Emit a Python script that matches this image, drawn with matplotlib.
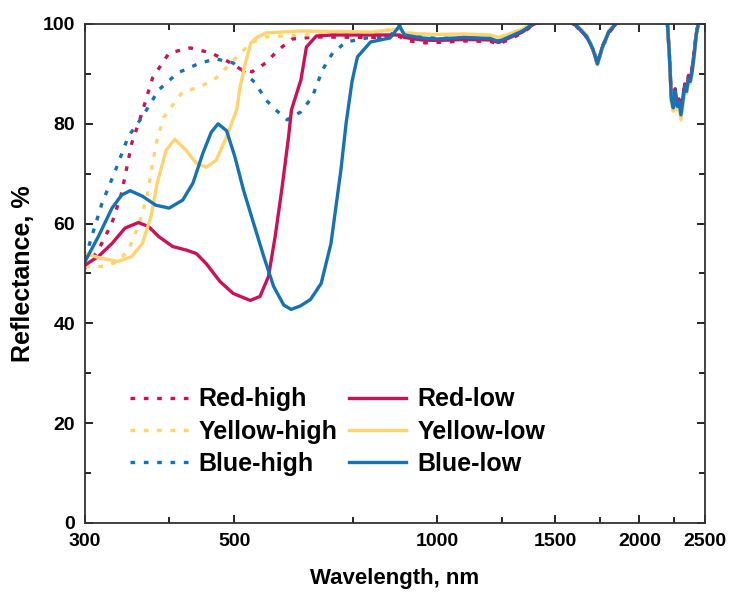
import matplotlib
matplotlib.use("Agg")
import matplotlib.pyplot as plt
from matplotlib.ticker import FixedLocator, NullFormatter

plt.rcParams['font.family'] = ['Liberation Sans', 'DejaVu Sans']

# visible part of each spectrum (nm, %)
red_high_wl = [300, 314, 329, 340, 352, 363, 378, 400, 430, 462, 494, 510, 531, 557, 581, 610, 662, 800]
red_high_r = [51.1, 54.7, 60.1, 66.1, 76.1, 81.4, 89.2, 94.2, 95.2, 94.2, 92.2, 91.0, 90.4, 92.2, 94.8, 97.0,
              97.4, 97.3]

yellow_high_wl = [300, 321, 336, 348, 360, 371, 378, 384, 393, 419, 445, 470, 494, 529, 557, 628, 800]
yellow_high_r = [51.4, 51.4, 52.4, 54.7, 59.4, 65.4, 72.1, 76.8, 81.4, 86.4, 87.4, 89.2, 92.2, 96.2, 97.4,
                 97.8, 98.0]

blue_high_wl = [300, 307, 318, 333, 348, 365, 386, 412, 445, 470, 498, 513, 537, 557, 576, 599,
                628, 653, 676, 700, 733, 787, 850]
blue_high_r = [53.0, 57.4, 64.1, 70.7, 77.5, 81.4, 86.8, 90.2, 92.2, 93.0, 92.2, 90.8, 88.2, 84.8, 82.8, 80.8,
               82.4, 85.4, 90.8, 94.2, 96.4, 97.2, 97.4]

red_low_wl = [300, 314, 329, 344, 360, 373, 386, 405, 424, 439, 454, 476, 498, 528, 546, 562, 575, 589,
              602, 608, 628, 640, 662, 700, 800]
red_low_r = [51.7, 53.4, 56.0, 59.1, 60.2, 59.4, 57.4, 55.4, 54.7, 54.0, 52.0, 48.4, 46.0, 44.6, 45.4, 49.4,
             57.4, 67.4, 77.4, 82.8, 88.8, 95.4, 97.6, 97.8, 97.8]

yellow_low_wl = [300, 318, 336, 352, 365, 376, 384, 396, 408, 424, 439, 454, 470, 487, 504, 510, 519, 529,
                 540, 557, 628, 800]
yellow_low_r = [54.0, 53.0, 52.4, 53.4, 56.0, 61.4, 68.1, 74.7, 76.9, 74.7, 72.1, 71.3, 72.7, 77.4, 82.8,
                87.4, 92.0, 96.2, 97.3, 98.2, 98.6, 98.4]

blue_low_wl = [300, 314, 329, 340, 350, 365, 382, 400, 419, 434, 449, 462, 473, 487, 501, 516, 534, 553,
               572, 592, 607, 627, 649, 673, 696, 720, 733, 748, 762, 797, 852]
blue_low_r = [52.4, 57.4, 63.1, 65.7, 66.6, 65.5, 63.7, 63.1, 64.7, 68.1, 74.1, 78.3, 80.0, 78.6, 73.4, 66.7,
              60.1, 53.4, 47.4, 43.7, 42.8, 43.5, 44.8, 48.0, 56.0, 70.7, 80.1, 88.5, 93.4, 96.4, 97.2]

# near-infrared part, shared wavelengths
nir_wl = [880, 895, 950, 1000, 1100, 1200, 1235, 1280, 1340, 1390, 1450, 1550, 1610, 1670, 1705, 1732, 1760,
          1800, 1850, 1950, 2150, 2200, 2215, 2230, 2245, 2260, 2275, 2290, 2305, 2320, 2335, 2350, 2365,
          2380, 2395, 2415, 2430, 2450, 2500]
red_high_nir = [97.5, 96.8, 96.2, 96.3, 96.6, 96.5, 96.0, 96.9, 98.2, 99.8, 100.7, 100.7, 99.6, 97.3, 94.9,
                91.9, 95.0, 98.2, 100.1, 100.8, 100.8, 100.2, 94.2, 85.8, 83.8, 87.0, 84.2, 85.2, 82.4, 85.2,
                88.2, 87.2, 89.7, 89.2, 91.2, 95.2, 98.3, 100.4, 101.0]
yellow_high_nir = [99.4, 98.3, 98.0, 97.9, 97.9, 97.7, 97.2, 97.9, 98.9, 100.2, 101.1, 101.1, 99.9, 97.7, 95.1,
                   92.0, 95.1, 98.6, 100.4, 101.1, 101.1, 100.3, 93.8, 85.0, 83.0, 86.0, 83.2, 84.0, 81.3, 84.0,
                   87.0, 86.3, 88.8, 88.3, 90.3, 94.3, 98.0, 100.5, 101.0]
blue_high_nir = [100.0, 98.0, 97.4, 97.1, 97.2, 97.0, 96.6, 97.5, 98.7, 100.1, 101.0, 101.0, 99.9, 97.6, 95.2,
                 92.3, 95.4, 98.5, 100.4, 101.0, 101.0, 100.5, 94.5, 86.0, 84.0, 87.0, 84.0, 85.0, 82.5, 85.0,
                 88.0, 87.0, 89.5, 89.0, 91.0, 95.0, 98.3, 100.6, 101.0]
red_low_nir = [97.8, 97.3, 96.8, 96.7, 96.9, 96.8, 96.3, 97.2, 98.4, 99.9, 100.8, 100.8, 99.7, 97.4, 95.0,
               92.0, 95.2, 98.3, 100.2, 100.9, 100.9, 100.3, 94.0, 85.5, 83.5, 86.8, 84.0, 85.0, 82.2, 85.0,
               88.0, 87.0, 89.5, 89.0, 91.0, 95.0, 98.2, 100.4, 101.0]
yellow_low_nir = [99.0, 98.2, 98.0, 97.9, 98.0, 97.8, 97.3, 98.0, 99.0, 100.3, 101.2, 101.2, 100.0, 97.8, 95.0,
                  91.8, 95.0, 98.6, 100.5, 101.2, 101.2, 100.3, 93.5, 84.5, 82.5, 85.5, 82.8, 83.5, 80.8, 83.5,
                  86.5, 86.0, 88.5, 88.0, 90.0, 94.0, 97.8, 100.5, 101.0]
blue_low_nir = [99.6, 97.8, 97.2, 97.0, 97.3, 97.1, 96.5, 97.4, 98.6, 100.0, 101.0, 101.0, 99.8, 97.5, 95.0,
                92.0, 95.2, 98.4, 100.3, 101.0, 101.0, 100.4, 94.0, 85.0, 83.2, 86.5, 83.5, 84.5, 81.8, 84.5,
                87.5, 86.5, 89.0, 88.5, 90.5, 94.5, 98.0, 100.5, 101.0]

labels = ['Red-high', 'Yellow-high', 'Blue-high', 'Red-low', 'Yellow-low', 'Blue-low']
red = '#CC1156'
yellow = '#FFD36E'
blue = '#1672B4'

series = [
    (red_high_wl + nir_wl, red_high_r + red_high_nir, red, 'dot'),
    (yellow_high_wl + nir_wl, yellow_high_r + yellow_high_nir, yellow, 'dot'),
    (blue_high_wl + nir_wl, blue_high_r + blue_high_nir, blue, 'dot'),
    (red_low_wl + nir_wl, red_low_r + red_low_nir, red, 'solid'),
    (yellow_low_wl + nir_wl, yellow_low_r + yellow_low_nir, yellow, 'solid'),
    (blue_low_wl + nir_wl, blue_low_r + blue_low_nir, blue, 'solid'),
]

fig = plt.figure(figsize=(7.31, 5.97), dpi=100)
ax = fig.add_axes([0.1163, 0.124, 0.8477, 0.8358])

for (wl, r, c, st), lab in zip(series, labels):
    if st == 'dot':
        ax.plot(wl, r, color=c, lw=2.4, linestyle=(0, (1.4, 2.6)), label=lab)
    else:
        ax.plot(wl, r, color=c, lw=2.4, label=lab, solid_joinstyle='round')

ax.set_xscale('log')
ax.set_xlim(300, 2500)
ax.set_ylim(0, 100)
ax.xaxis.set_major_locator(FixedLocator([300, 500, 1000, 1500, 2000, 2500]))
ax.xaxis.set_minor_locator(FixedLocator([400, 750, 1250, 1750, 2250]))
ax.xaxis.set_minor_formatter(NullFormatter())
ax.set_xticklabels(['300', '500', '1000', '1500', '2000', '2500'])
ax.set_yticks([0, 20, 40, 60, 80, 100])
ax.set_yticks([10, 30, 50, 70, 90], minor=True)

ax.tick_params(which='both', direction='in', top=True, right=True, width=1.2, labelsize=14)
ax.tick_params(which='major', length=6, pad=7)
ax.tick_params(which='minor', length=4)
for lab in ax.get_xticklabels() + ax.get_yticklabels():
    lab.set_fontweight('bold')
for sp in ax.spines.values():
    sp.set_linewidth(1.3)
    sp.set_color('#333333')

ax.set_xlabel('Wavelength, nm', fontsize=16, fontweight='bold', labelpad=13)
ax.set_ylabel('Reflectance, %', fontsize=18, fontweight='bold', labelpad=6)

ax.legend(loc='upper left', bbox_to_anchor=(0.0727, 0.272), ncol=2, frameon=False,
          prop={'size': 18, 'weight': 'bold'}, borderpad=0, borderaxespad=0,
          handlelength=2.3, handletextpad=0.45, columnspacing=0.45, labelspacing=0.33)

fig.savefig('out.png', dpi=100)
